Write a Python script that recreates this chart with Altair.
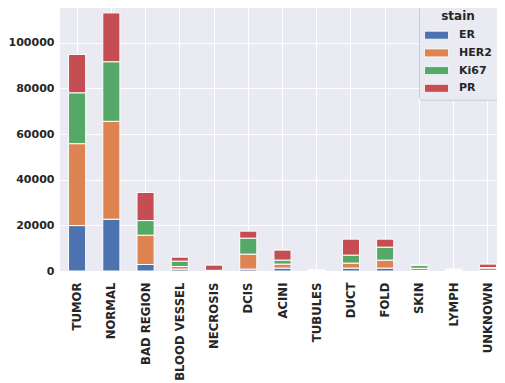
import altair as alt
import pandas as pd

categories = ["TUMOR", "NORMAL", "BAD REGION", "BLOOD VESSEL", "NECROSIS", "DCIS",
              "ACINI", "TUBULES", "DUCT", "FOLD", "SKIN", "LYMPH", "UNKNOWN"]
stains = ["ER", "HER2", "Ki67", "PR"]
er = [19900, 22700, 2850, 830, 100, 830, 1270, 100, 1270, 1270, 200, 200, 200]
her2 = [35900, 42900, 12850, 1140, 100, 6570, 1750, 150, 2190, 3500, 1000, 300, 1100]
ki67 = [22300, 26100, 6400, 2360, 100, 7000, 1750, 200, 3500, 5690, 1300, 200, 200]
pr = [16800, 21400, 12300, 1750, 2280, 3060, 4380, 100, 7000, 3500, 200, 200, 1520]
colors = ["#4C72B0", "#DD8452", "#55A868", "#C44E52"]

rows = []
for si, (s, vals) in enumerate(zip(stains, [er, her2, ki67, pr])):
    for c, v in zip(categories, vals):
        rows.append({"region": c, "stain": s, "count": v, "idx": si})
df = pd.DataFrame(rows)

FONT = "DejaVu Sans"

chart = alt.Chart(df).mark_bar(stroke="white", strokeWidth=1).encode(
    x=alt.X("region:N", sort=categories, title=None,
            scale=alt.Scale(paddingInner=0.5, paddingOuter=0.25),
            axis=alt.Axis(labelAngle=-90, labelAlign="right", labelBaseline="middle",
                          ticks=False, labelPadding=11, domain=False,
                          grid=True, gridColor="white", gridWidth=1, gridOpacity=1,
                          labelFontSize=11.7, labelFontWeight="bold",
                          labelColor="#262626", labelFont=FONT)),
    y=alt.Y("sum(count):Q", title=None, stack="zero",
            scale=alt.Scale(domain=[0, 118755], nice=False, zero=True),
            axis=alt.Axis(values=[0, 20000, 40000, 60000, 80000, 100000], format="d",
                          ticks=False, labelPadding=6, domain=False,
                          grid=True, gridColor="white", gridWidth=1, gridOpacity=1,
                          labelFontSize=11, labelFontWeight="bold",
                          labelColor="#262626", labelFont=FONT)),
    color=alt.Color("stain:N", scale=alt.Scale(domain=stains, range=colors),
                    legend=alt.Legend(
                        title="stain", orient="none", legendX=359, legendY=5.7,
                        titleAnchor="middle", titleFontSize=12, titleFontWeight="bold",
                        titleFont=FONT, titleColor="#262626", titlePadding=4,
                        labelFontSize=11, labelFontWeight="bold", labelFont=FONT,
                        labelColor="#262626",
                        symbolType="M-1.5,-0.5H1.5V0.5H-1.5Z", symbolSize=256,
                        symbolStrokeColor="white", symbolStrokeWidth=0.8,
                        symbolOpacity=1, symbolOffset=4, labelOffset=14,
                        rowPadding=2.7, padding=5,
                        fillColor="#EAEAF2", strokeColor="#cccccc", cornerRadius=3)),
    order=alt.Order("idx:Q", sort="ascending"),
).properties(
    width=445, height=271,
    autosize=alt.AutoSizeParams(type="none"),
    padding={"left": 52, "top": -8, "right": -8, "bottom": 112},
).configure(
    background="white",
    view=alt.ViewConfig(fill="#EAEAF2", stroke=None),
)

chart.save("out.html", embed_options={"renderer": "svg", "actions": False})
